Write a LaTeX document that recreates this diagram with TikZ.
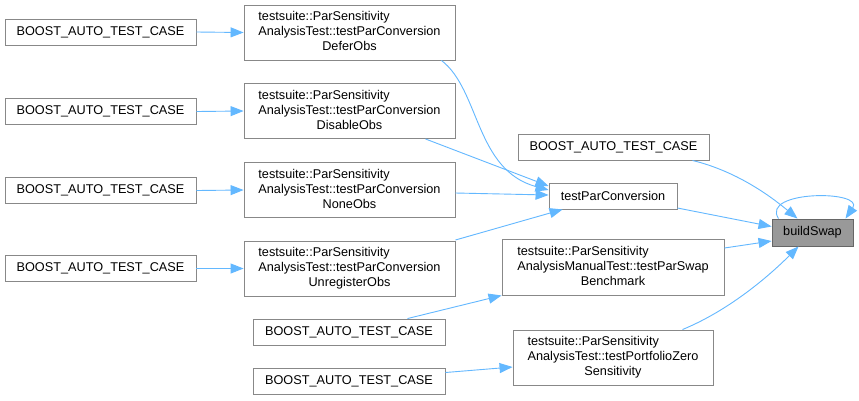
\documentclass[tikz,border=0pt]{standalone}
\usepackage{fontspec}
\setmainfont{Liberation Sans}
\usetikzlibrary{arrows.meta}
\definecolor{edgeblue}{HTML}{63B8FF}
\definecolor{boxgray}{HTML}{888888}
\definecolor{hlfill}{HTML}{999999}
\definecolor{hlborder}{HTML}{666666}
\newcommand{\threel}[3]{\begin{tabular}{@{}l@{}}#1\\#2\\\multicolumn{1}{@{}c@{}}{#3}\end{tabular}}
\begin{document}
\begin{tikzpicture}[x=1pt,y=-1pt,
  every node/.style={font=\fontsize{12.7pt}{15pt}\selectfont},
  fbox/.style={draw=boxgray, line width=0.9pt, fill=white, inner sep=0pt, anchor=center},
  hbox/.style={draw=hlborder, line width=0.9pt, fill=hlfill, inner sep=0pt, anchor=center},
  edge/.style={draw=edgeblue, line width=0.9pt, -{Triangle[length=13pt,width=10pt]}}]
\useasboundingbox (0,0) rectangle (859,400);
\fill[white] (0,0) rectangle (859,400);
% left column
\node[fbox, minimum width=191pt, minimum height=26pt] (b1) at (100.5,32) {BOOST\_AUTO\_TEST\_CASE};
\node[fbox, minimum width=191pt, minimum height=26pt] (b2) at (100.5,111.5) {BOOST\_AUTO\_TEST\_CASE};
\node[fbox, minimum width=191pt, minimum height=26pt] (b3) at (100.5,190.5) {BOOST\_AUTO\_TEST\_CASE};
\node[fbox, minimum width=191pt, minimum height=26pt] (b4) at (100.5,268.5) {BOOST\_AUTO\_TEST\_CASE};
% second column
\node[fbox, minimum width=211pt, minimum height=55pt] (c1) at (349.5,32.5) {\threel{testsuite::ParSensitivity}{AnalysisTest::testParConversion}{DeferObs}};
\node[fbox, minimum width=211pt, minimum height=55pt] (c2) at (349.5,111) {\threel{testsuite::ParSensitivity}{AnalysisTest::testParConversion}{DisableObs}};
\node[fbox, minimum width=211pt, minimum height=55pt] (c3) at (349.5,190) {\threel{testsuite::ParSensitivity}{AnalysisTest::testParConversion}{NoneObs}};
\node[fbox, minimum width=211pt, minimum height=55pt] (c4) at (349.5,268.5) {\threel{testsuite::ParSensitivity}{AnalysisTest::testParConversion}{UnregisterObs}};
\node[fbox, minimum width=192pt, minimum height=26pt] (bb1) at (349,332) {BOOST\_AUTO\_TEST\_CASE};
\node[fbox, minimum width=192pt, minimum height=26pt] (bb2) at (349,381.5) {BOOST\_AUTO\_TEST\_CASE};
% third column
\node[fbox, minimum width=191pt, minimum height=26pt] (t) at (613.5,147) {BOOST\_AUTO\_TEST\_CASE};
\node[fbox, minimum width=128pt, minimum height=26pt] (tpc) at (613,196) {testParConversion};
\node[fbox, minimum width=222pt, minimum height=56pt] (man) at (613,267) {\threel{testsuite::ParSensitivity}{AnalysisManualTest::testParSwap}{Benchmark}};
\node[fbox, minimum width=200pt, minimum height=55pt] (pz) at (613,357.5) {\threel{testsuite::ParSensitivity}{AnalysisTest::testPortfolioZero}{Sensitivity}};
% target
\node[hbox, minimum width=81pt, minimum height=27pt] (bs) at (812.5,232.5) {buildSwap};
% edges
\draw[edge] (b1.east) -- (c1.west);
\draw[edge] (b2.east) -- (c2.west);
\draw[edge] (b3.east) -- (c3.west);
\draw[edge] (b4.east) -- (c4.west);
\draw[edge] ([xshift=-14pt]c1.south east) .. controls (480,90) and (475,170) .. ([yshift=6pt]tpc.west);
\draw[edge] ([xshift=-30pt]c2.south east) -- ([yshift=10pt]tpc.west);
\draw[edge] ([yshift=-3pt]c3.east) -- ([yshift=1pt]tpc.west);
\draw[edge] ([yshift=28.5pt]c4.east) -- ([xshift=14pt]tpc.south west);
\draw[edge] ([xshift=-17pt]t.south east) .. controls (740,172) and (775,200) .. ([xshift=-15pt]bs.north);
\draw[edge] ([yshift=-12pt]tpc.east) -- ([yshift=6pt]bs.west);
\draw[edge] ([yshift=19pt]man.east) -- ([yshift=-8.5pt]bs.west);
\draw[edge] ([xshift=-31pt]pz.north east) .. controls (730,310) and (770,275) .. ([xshift=-14pt]bs.south);
\draw[edge] ([xshift=-34pt]bs.north) .. controls (760,190) and (865,190) .. ([xshift=33pt]bs.north);
\draw[edge] ([xshift=-38pt]bb1.north east) -- (man.south west);
\draw[edge] ([yshift=9pt]bb2.east) -- ([yshift=-9.5pt]pz.west);
\end{tikzpicture}
\end{document}
